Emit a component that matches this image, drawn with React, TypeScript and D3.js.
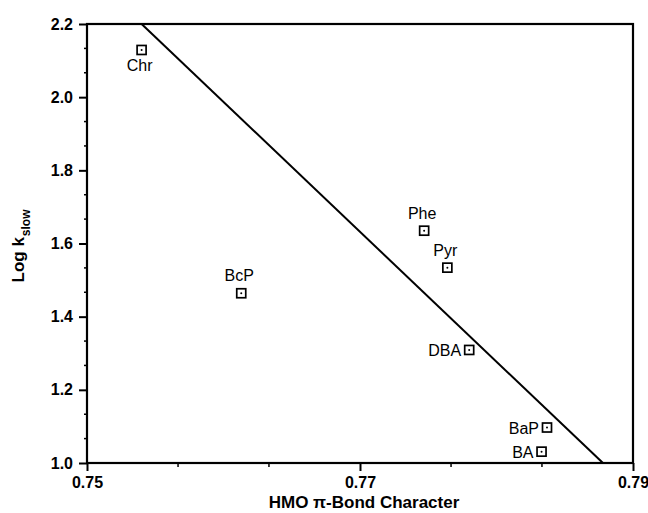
import React, { useEffect, useRef } from 'react';
import * as d3 from 'd3';

// HMO pi-bond character vs log k(slow) for each PAH
const compounds = ['Chr', 'BcP', 'Phe', 'Pyr', 'DBA', 'BaP', 'BA'];
const piBond = [0.7540, 0.7613, 0.7747, 0.7764, 0.7780, 0.7837, 0.7833];
const logKslow = [2.129, 1.464, 1.635, 1.534, 1.309, 1.097, 1.031];
const labelSide = ['below', 'above', 'above', 'above', 'left', 'left', 'left'];

// fitted line end points (as drawn inside the frame)
const fitX = [0.7540, 0.7878];
const fitY = [2.2, 1.0];

const xTicks = [0.75, 0.77, 0.79];
const xMinor = [0.75667, 0.76333, 0.77667, 0.78333];
const yTicks = [1.0, 1.2, 1.4, 1.6, 1.8, 2.0, 2.2];
const yMinor = [1.0667, 1.1333, 1.2667, 1.3333, 1.4667, 1.5333, 1.6667, 1.7333, 1.8667, 1.9333, 2.0667, 2.1333];

const FONT = '"Liberation Sans", Arial, Helvetica, sans-serif';

export default function App() {
  const ref = useRef<SVGSVGElement>(null);

  useEffect(() => {
    const width = 648, height = 513;
    const margin = { top: 24, right: 15, bottom: 50, left: 87 };
    const svg = d3.select(ref.current);
    svg.selectAll('*').remove();

    const x = d3.scaleLinear().domain([0.75, 0.79]).range([margin.left, width - margin.right]);
    const y = d3.scaleLinear().domain([1.0, 2.2]).range([height - margin.bottom, margin.top]);

    const g = svg.append('g');

    // frame
    g.append('rect')
      .attr('x', margin.left).attr('y', margin.top)
      .attr('width', width - margin.left - margin.right)
      .attr('height', height - margin.top - margin.bottom)
      .attr('fill', 'none').attr('stroke', '#000').attr('stroke-width', 2.2);

    // bottom axis
    const xa = g.append('g').attr('transform', `translate(0,${height - margin.bottom})`)
      .call(d3.axisBottom(x).tickValues(xTicks).tickSize(8).tickFormat(d3.format('.2f')));
    xa.append('g').selectAll('line').data(xMinor).enter().append('line')
      .attr('x1', d => x(d)).attr('x2', d => x(d)).attr('y1', 0).attr('y2', 4)
      .attr('stroke', '#000').attr('stroke-width', 1.5);

    // left axis
    const ya = g.append('g').attr('transform', `translate(${margin.left},0)`)
      .call(d3.axisLeft(y).tickValues(yTicks).tickSize(8).tickFormat(d3.format('.1f')));
    ya.append('g').selectAll('line').data(yMinor).enter().append('line')
      .attr('y1', d => y(d)).attr('y2', d => y(d)).attr('x1', -3).attr('x2', 0)
      .attr('stroke', '#000').attr('stroke-width', 1.5);

    [xa, ya].forEach(a => {
      a.select('.domain').remove();
      a.selectAll('.tick line').attr('stroke-width', 2);
      a.selectAll('.tick text')
        .attr('font-family', FONT).attr('font-size', 16).attr('font-weight', 'bold').attr('fill', '#000');
    });
    xa.selectAll('.tick text').attr('y', 9).attr('dy', '1em');
    ya.selectAll('.tick text').attr('x', -14);

    // regression line
    g.append('line')
      .attr('x1', x(fitX[0])).attr('y1', y(fitY[0]))
      .attr('x2', x(fitX[1])).attr('y2', y(fitY[1]))
      .attr('stroke', '#000').attr('stroke-width', 2);

    const data = compounds.map((name, i) => ({ name, px: piBond[i], k: logKslow[i], side: labelSide[i] }));

    // markers: open square with a dot
    const pts = g.selectAll('.pt').data(data).enter().append('g')
      .attr('transform', d => `translate(${x(d.px)},${y(d.k)})`);
    pts.append('rect').attr('x', -4.5).attr('y', -4.5).attr('width', 9).attr('height', 9)
      .attr('fill', '#fff').attr('stroke', '#000').attr('stroke-width', 1.7);
    pts.append('circle').attr('r', 1).attr('fill', '#000');

    pts.append('text')
      .attr('font-family', FONT).attr('font-size', 16).attr('fill', '#000')
      .attr('text-anchor', d => (d.side === 'left' ? 'end' : 'middle'))
      .attr('x', d => (d.side === 'left' ? -8 : -2))
      .attr('y', d => (d.side === 'below' ? 21 : d.side === 'above' ? -12 : 6))
      .text(d => d.name);

    // axis titles
    const yt = g.append('text')
      .attr('transform', `translate(24,246) rotate(-90)`)
      .attr('text-anchor', 'middle')
      .attr('font-family', FONT).attr('font-size', 17).attr('font-weight', 'bold');
    yt.append('tspan').text('Log k');
    yt.append('tspan').attr('font-size', 12).attr('dy', 6).attr('dx', 1).text('slow');

    g.append('text')
      .attr('x', 364).attr('y', 508)
      .attr('text-anchor', 'middle')
      .attr('font-family', FONT).attr('font-size', 17).attr('font-weight', 'bold')
      .text('HMO π-Bond Character');
  }, []);

  return (
    <svg ref={ref} width={648} height={513}
      style={{ position: 'absolute', left: 0, top: 0, background: '#fff' }} />
  );
}
